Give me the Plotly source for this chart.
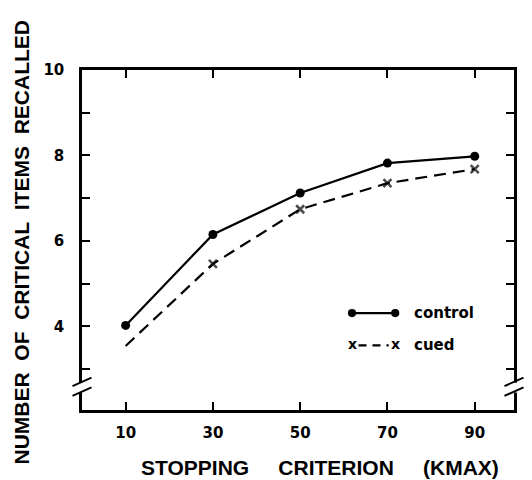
import plotly.graph_objects as go

kmax = [10, 30, 50, 70, 90]
control = [4.02, 6.15, 7.12, 7.82, 7.98]
cued = [3.54, 5.46, 6.74, 7.35, 7.68]
cued_marker_size = [0, 8, 8, 8, 8]

ytick_vals = [3, 4, 5, 6, 7, 8, 9, 10]
ytick_text = ["", "4", "", "6", "", "8", "", "10"]
xtick_vals = [10, 30, 50, 70, 90]

FONT = "Liberation Sans"
TFONT = "DejaVu Sans"
NB = "\u00a0"

fig = go.Figure()
fig.add_trace(go.Scatter(
    x=kmax, y=control, mode="lines+markers", name="control",
    line=dict(color="black", width=2.2),
    marker=dict(symbol="circle", size=9, color="black"),
    showlegend=False))
fig.add_trace(go.Scatter(
    x=kmax, y=cued, mode="lines+markers", name="cued",
    line=dict(color="black", width=2.2, dash="12px,7px"),
    marker=dict(symbol="x-thin", size=cued_marker_size, color="black",
                line=dict(color="black", width=2.5)),
    showlegend=False))

axis_common = dict(showline=True, linecolor="black", linewidth=2.5,
                   mirror="ticks", ticks="inside", ticklen=8, tickwidth=2,
                   tickcolor="black", showgrid=False, zeroline=False,
                   tickfont=dict(family=TFONT, size=15, color="black", weight="bold"))

fig.update_xaxes(range=[0, 99], tickvals=xtick_vals, ticklabelstandoff=7, **axis_common)
fig.update_yaxes(range=[2.04, 10], tickvals=ytick_vals, ticktext=ytick_text,
                 ticklabelstandoff=12, **axis_common)

shapes = []
# axis breaks (left and right)
for xc in (0.0, 1.0):
    shapes.append(dict(type="rect", xref="paper", yref="y", x0=xc - 0.01, x1=xc + 0.01,
                       y0=2.45, y1=2.68, fillcolor="white", line=dict(width=0), layer="above"))
    for yb in (2.47, 2.70):
        shapes.append(dict(type="line", xref="paper", yref="y", x0=xc - 0.022, x1=xc + 0.022,
                           y0=yb - 0.1, y1=yb + 0.1, line=dict(color="black", width=2), layer="above"))

# legend samples
shapes.append(dict(type="line", xref="paper", yref="paper", x0=0.625, x1=0.725, y0=0.285, y1=0.285,
                   line=dict(color="black", width=2.2)))
for xc in (0.625, 0.725):
    shapes.append(dict(type="circle", xref="paper", yref="paper",
                       x0=xc - 0.0095, x1=xc + 0.0095, y0=0.285 - 0.012, y1=0.285 + 0.012,
                       fillcolor="black", line=dict(color="black", width=0)))
shapes.append(dict(type="line", xref="paper", yref="paper", x0=0.64, x1=0.71, y0=0.19, y1=0.19,
                   line=dict(color="black", width=2.2, dash="8px,6px")))
fig.update_layout(shapes=shapes)

ann = [
    dict(text="control", x=0.765, y=0.285, xref="paper", yref="paper", xanchor="left",
         yanchor="middle", showarrow=False, font=dict(family=TFONT, size=15, color="black", weight="bold")),
    dict(text="cued", x=0.765, y=0.19, xref="paper", yref="paper", xanchor="left",
         yanchor="middle", showarrow=False, font=dict(family=TFONT, size=15, color="black", weight="bold")),
    dict(text="x", x=0.625, y=0.195, xref="paper", yref="paper", xanchor="center",
         yanchor="middle", showarrow=False, font=dict(family=TFONT, size=14, color="black", weight="bold")),
    dict(text="x", x=0.725, y=0.195, xref="paper", yref="paper", xanchor="center",
         yanchor="middle", showarrow=False, font=dict(family=TFONT, size=14, color="black", weight="bold")),
    dict(text="<b>STOPPING" + NB * 5 + "CRITERION" + NB * 5 + "(KMAX)</b>",
         x=0.551, y=-0.168, xref="paper", yref="paper", xanchor="center", yanchor="middle",
         showarrow=False, font=dict(family=FONT, size=21, color="black")),
    dict(text="<b>NUMBER" + NB * 2 + "OF" + NB * 2 + "CRITICAL" + NB * 2 + "ITEMS" + NB * 2 + "RECALLED</b>",
         x=-0.141, y=0.493, xref="paper", yref="paper", xanchor="center", yanchor="middle",
         textangle=-90, showarrow=False, font=dict(family=FONT, size=21, color="black")),
]
fig.update_layout(annotations=ann)

fig.update_layout(width=532, height=480, margin=dict(l=82, r=18, t=70, b=70),
                  plot_bgcolor="white", paper_bgcolor="white", showlegend=False)

fig.write_html("out.html")
